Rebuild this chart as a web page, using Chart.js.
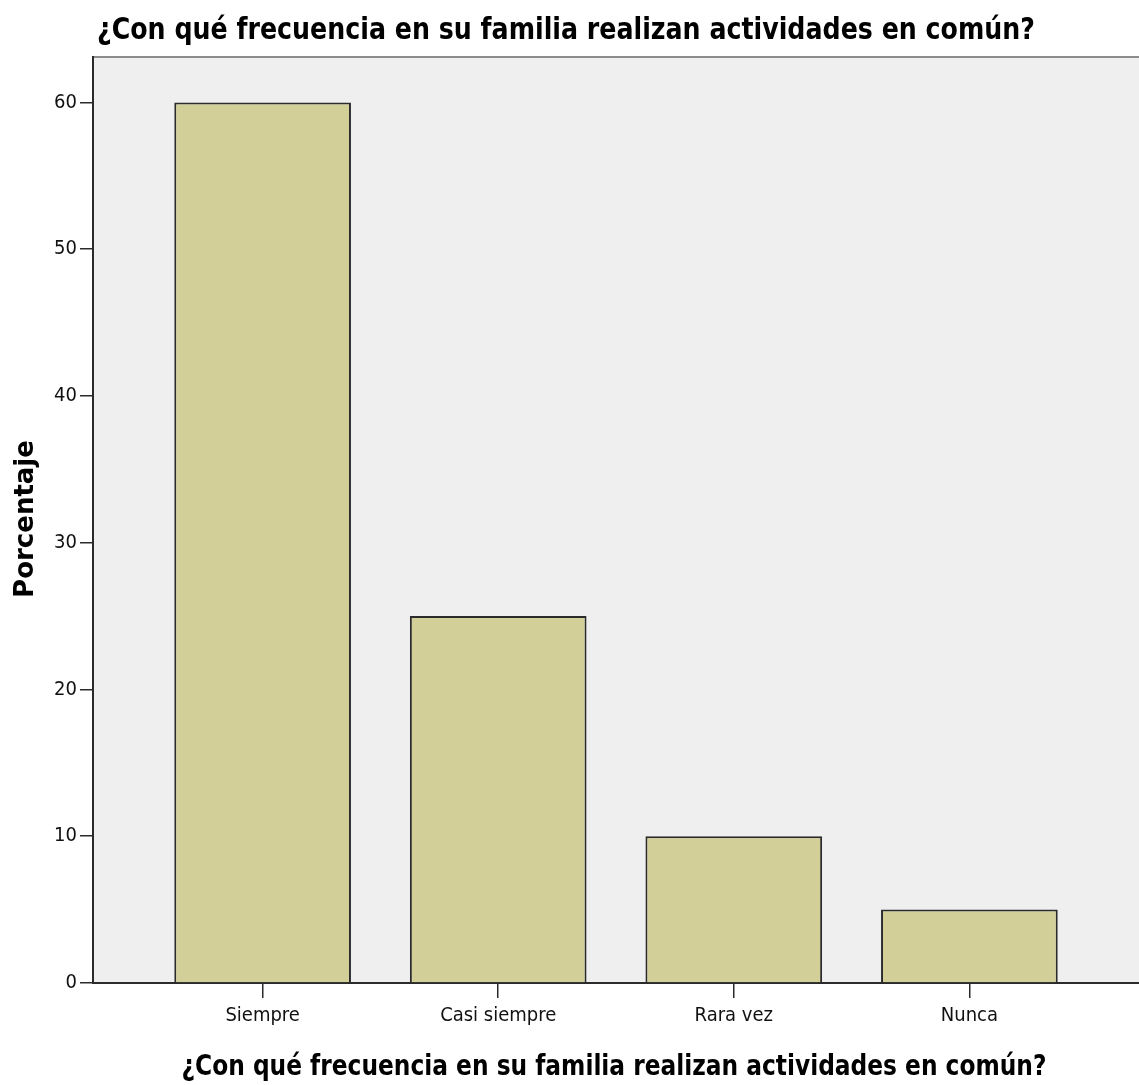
<!DOCTYPE html>
<html>
<head>
<meta charset="utf-8">
<script src="https://cdn.jsdelivr.net/npm/chart.js@4.4.1/dist/chart.umd.min.js"></script>
<style>
  html, body { margin: 0; padding: 0; background: #fff; }
  #wrap { width: 1139px; height: 1085px; position: relative; }
</style>
</head>
<body>
<div id="wrap"><canvas id="freqchart"></canvas></div>
<script>
// categories and percentages
var categorias = ["Siempre", "Casi siempre", "Rara vez", "Nunca"];
var porcentajes = [60, 25, 10, 5];
var yTicks = [0, 10, 20, 30, 40, 50, 60];

var titulo = "¿Con qué frecuencia en su familia realizan actividades en común?";
var tituloY = "Porcentaje";
var narrow = "'DejaVu Sans Condensed', 'Liberation Sans Narrow', Arial, sans-serif";

// bars sit on x = 1..4 of a linear scale
var puntos = categorias.map(function(c, i) {
    return { x: i + 1, y: porcentajes[i] };
});

// gray plot background + top border, titles squeezed to the reference widths
var fondo = {
    id: 'fondo',
    beforeDraw: function(chart) {
        var ctx = chart.ctx, a = chart.chartArea;
        ctx.save();
        ctx.fillStyle = '#efefef';
        ctx.fillRect(a.left, a.top, chart.width - a.left, a.bottom - a.top);
        ctx.strokeStyle = '#8c8c8c';
        ctx.lineWidth = 2;
        ctx.beginPath();
        ctx.moveTo(a.left, a.top);
        ctx.lineTo(chart.width, a.top);
        ctx.stroke();
        ctx.restore();
    },
    afterDraw: function(chart) {
        var ctx = chart.ctx;
        ctx.save();
        ctx.fillStyle = '#000';
        ctx.textBaseline = 'alphabetic';

        // main title, top left
        ctx.font = "bold 31px " + narrow;
        ctx.textAlign = 'left';
        ctx.fillText(titulo, 97, 39, 938);

        // x axis title
        ctx.font = "bold 28px 'DejaVu Sans Condensed', sans-serif";
        ctx.textAlign = 'center';
        ctx.fillText(titulo, 614, 1075, 865);

        // y axis title
        ctx.translate(33, 519);
        ctx.rotate(-Math.PI / 2);
        ctx.font = "bold 26px 'DejaVu Sans', sans-serif";
        ctx.fillText(tituloY, 0, 0, 172);
        ctx.restore();
    }
};

var ctx = document.getElementById("freqchart").getContext("2d");
var chart = new Chart(ctx, {
    type: 'bar',
    data: {
        datasets: [{
            data: puntos,
            backgroundColor: '#d3cf99',
            borderColor: '#2b2b2b',
            borderWidth: 2,
            barPercentage: 0.75,
            categoryPercentage: 1.0
        }]
    },
    options: {
        responsive: true,
        maintainAspectRatio: false,
        animation: false,
        layout: { padding: { top: 57, left: 0, right: 0, bottom: 0 } },
        plugins: {
            legend: { display: false },
            tooltip: { enabled: false }
        },
        scales: {
            x: {
                type: 'linear',
                offset: false,
                min: 0.28,
                max: 4.72,
                afterBuildTicks: function(scale) {
                    scale.ticks = categorias.map(function(c, i) { return { value: i + 1 }; });
                },
                afterFit: function(scale) { scale.height = 102; },
                ticks: {
                    autoSkip: false,
                    maxRotation: 0,
                    padding: 6,
                    color: '#111',
                    font: { family: narrow, size: 20 },
                    callback: function(v) { return categorias[v - 1]; }
                },
                grid: {
                    offset: false,
                    drawOnChartArea: false,
                    tickLength: 15,
                    color: '#2b2b2b',
                    lineWidth: 1.5
                },
                border: { color: '#2b2b2b', width: 2 }
            },
            y: {
                min: 0,
                max: 63.1,
                afterBuildTicks: function(scale) {
                    scale.ticks = yTicks.map(function(v) { return { value: v }; });
                },
                afterFit: function(scale) { scale.width = 93; },
                ticks: {
                    padding: 3,
                    color: '#111',
                    font: { family: narrow, size: 20 }
                },
                grid: {
                    drawOnChartArea: false,
                    tickLength: 13,
                    color: '#2b2b2b',
                    lineWidth: 1.5
                },
                border: { color: '#2b2b2b', width: 2 }
            }
        }
    },
    plugins: [fondo]
});
</script>
</body>
</html>
